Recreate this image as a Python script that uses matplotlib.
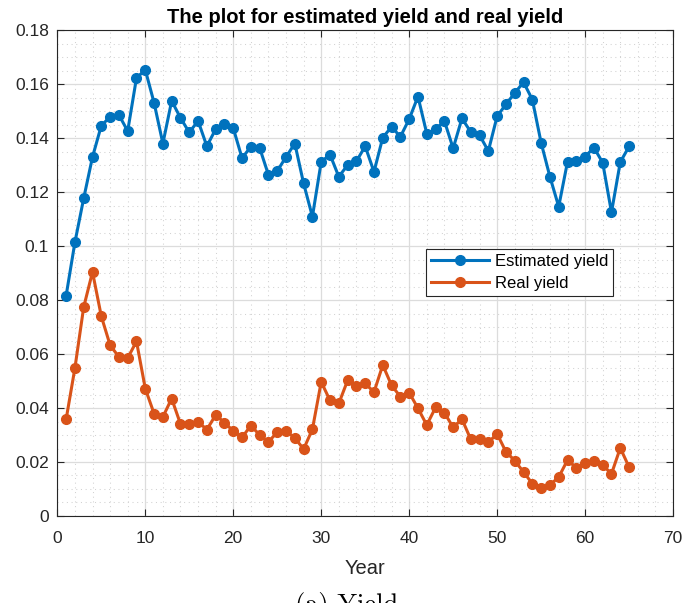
import matplotlib
matplotlib.use("Agg")
import matplotlib.pyplot as plt
from matplotlib.ticker import MultipleLocator
from matplotlib.patches import Rectangle

# data
years = list(range(1, 66))
estimated_yield = [
    0.0816, 0.1014, 0.1177, 0.1330, 0.1446, 0.1479, 0.1486, 0.1426, 0.1623, 0.1653,
    0.1531, 0.1380, 0.1538, 0.1475, 0.1421, 0.1464, 0.1370, 0.1433, 0.1454, 0.1437,
    0.1326, 0.1368, 0.1364, 0.1264, 0.1278, 0.1330, 0.1380, 0.1232, 0.1109, 0.1312,
    0.1339, 0.1257, 0.1300, 0.1314, 0.1370, 0.1275, 0.1402, 0.1442, 0.1405, 0.1470,
    0.1554, 0.1417, 0.1432, 0.1464, 0.1362, 0.1473, 0.1423, 0.1411, 0.1352, 0.1481,
    0.1525, 0.1567, 0.1607, 0.1543, 0.1383, 0.1257, 0.1146, 0.1312, 0.1315, 0.1331,
    0.1365, 0.1309, 0.1125, 0.1311, 0.1369,
]
real_yield = [
    0.0358, 0.0548, 0.0774, 0.0904, 0.0740, 0.0633, 0.0589, 0.0585, 0.0647, 0.0472,
    0.0379, 0.0367, 0.0435, 0.0341, 0.0341, 0.0349, 0.0320, 0.0374, 0.0346, 0.0315,
    0.0291, 0.0335, 0.0300, 0.0274, 0.0311, 0.0315, 0.0289, 0.0248, 0.0321, 0.0497,
    0.0428, 0.0417, 0.0502, 0.0483, 0.0491, 0.0459, 0.0559, 0.0484, 0.0442, 0.0457,
    0.0399, 0.0337, 0.0402, 0.0383, 0.0328, 0.0359, 0.0284, 0.0286, 0.0273, 0.0304,
    0.0238, 0.0205, 0.0163, 0.0120, 0.0104, 0.0115, 0.0144, 0.0207, 0.0179, 0.0198,
    0.0205, 0.0189, 0.0156, 0.0252, 0.0181,
]
ytick_vals = [0, 0.02, 0.04, 0.06, 0.08, 0.1, 0.12, 0.14, 0.16, 0.18]
ytick_labels = ['0', '0.02', '0.04', '0.06', '0.08', '0.1', '0.12', '0.14', '0.16', '0.18']

plt.rcParams['font.family'] = ['Liberation Sans', 'DejaVu Sans']

fig = plt.figure(figsize=(6.84, 6.15), dpi=100)
ax = fig.add_axes([0.0838, 0.161, 0.9002, 0.790])

ax.plot(years, estimated_yield, '-o', color='#0072BD', lw=2.2, ms=7,
        label='Estimated yield')
ax.plot(years, real_yield, '-o', color='#D95319', lw=2.2, ms=7,
        label='Real yield')

ax.set_xlim(0, 70)
ax.set_ylim(0, 0.18)
ax.xaxis.set_major_locator(MultipleLocator(10))
ax.xaxis.set_minor_locator(MultipleLocator(2))
ax.yaxis.set_minor_locator(MultipleLocator(0.005))
ax.set_yticks(ytick_vals)
ax.set_yticklabels(ytick_labels)

# major grid solid, minor grid dotted (MATLAB style)
ax.grid(True, which='major', color='#dcdcdc', lw=0.9)
ax.grid(True, which='minor', color='#d2d2d2', lw=0.75, ls=(0, (1, 3.5)))
ax.set_axisbelow(True)

ax.tick_params(which='major', direction='in', top=True, right=True,
               length=5, labelsize=12.5, colors='#262626', width=0.8)
ax.tick_params(axis='x', which='major', pad=11)
ax.tick_params(axis='y', which='major', pad=6)
ax.tick_params(which='minor', length=0)
for s in ax.spines.values():
    s.set_color('#262626')
    s.set_linewidth(0.8)

ax.set_xlabel('Year', fontsize=14.5, color='#262626', labelpad=9)
ax.set_title('The plot for estimated yield and real yield', fontsize=14.5,
             fontweight='bold', pad=5)

leg = ax.legend(loc='upper right', bbox_to_anchor=(0.9026, 0.549),
                fontsize=12, fancybox=False, framealpha=1,
                edgecolor='#262626', borderpad=0.3, labelspacing=0.4,
                handlelength=3.5, handletextpad=0.35, borderaxespad=0)
leg.get_frame().set_linewidth(0.8)

# subfigure caption, cut off at the bottom like the source image
fig.text(0.507, 0.037, '(a) Yield', family='cmr10', fontsize=19,
         ha='center', va='top')
fig.patches.append(Rectangle((0, 0), 1, 12 / 615, transform=fig.transFigure,
                             facecolor='white', edgecolor='none', zorder=10))

fig.savefig('out.png', dpi=100)
